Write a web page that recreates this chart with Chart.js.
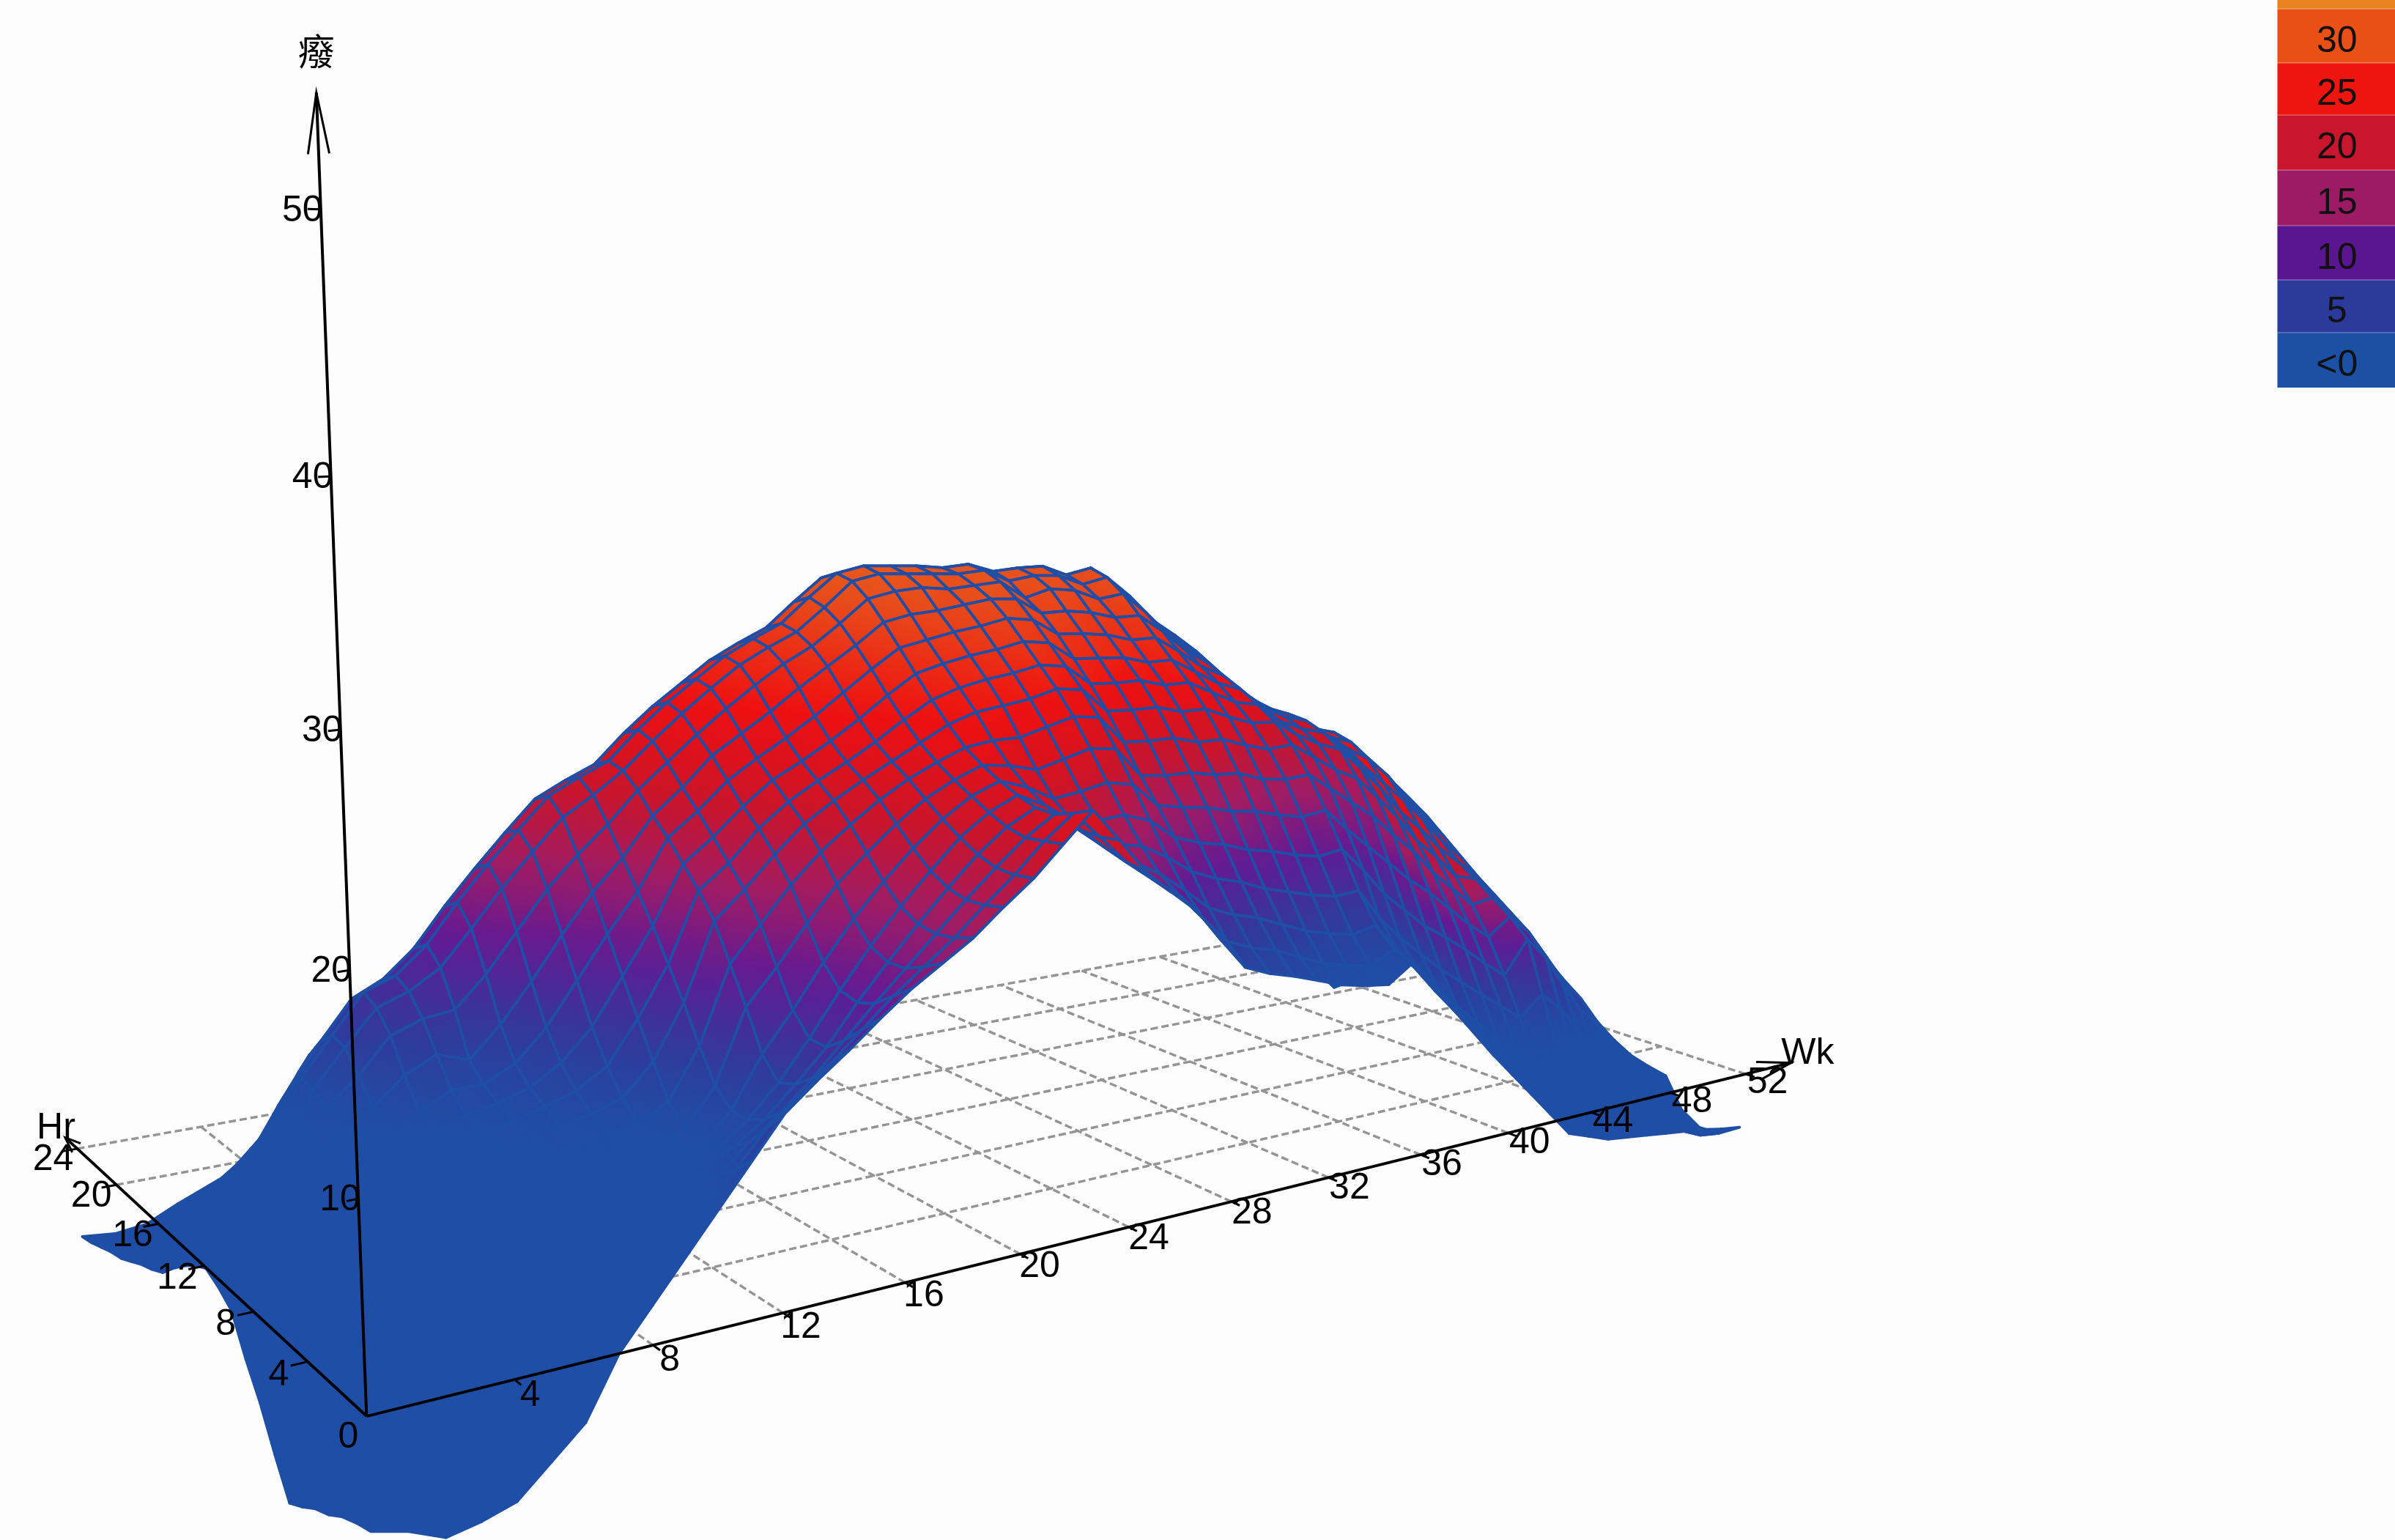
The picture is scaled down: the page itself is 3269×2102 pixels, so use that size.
<!DOCTYPE html>
<html>
<head>
<meta charset="utf-8">
<title>Surface</title>
<script src="https://cdn.jsdelivr.net/npm/chart.js@4"></script>
<style>
  html, body { margin: 0; padding: 0; background: #fdfdfd; }
  canvas { display: block; }
</style>
</head>
<body>
<canvas id="surfaceChart" width="3269" height="2102"></canvas>
<script>
// --- Data ---
const wkTicks = [4, 8, 12, 16, 20, 24, 28, 32, 36, 40, 44, 48, 52];
const hrTicks = [4, 8, 12, 16, 20, 24];
const tempTicks = [10, 20, 30, 40, 50];
const legendLabels = ['', '30', '25', '20', '15', '10', '5', '<0'];
const legendColors = ['#e8841e', '#ea5015', '#ee1410', '#c9152d', '#9c1b64', '#5a1590', '#2c3a9c', '#1c50a4'];

// one row per week (0-52), one value per hour (0-24)
const tempByWeek = [
  [-5.5,-5.8,-6.2,-6.8,-7.2,-7.8,-8.3,-6.5,-4.5,-2.9,-1,-0.4,0,-0.4,-1,-1.7,-2.5,-2.9,-3.2,-3.6,-4,-4.2,-4.5,-4.8,-5],
  [-6,-6.1,-6.4,-6.8,-7.2,-7.4,-6.9,-5.2,-3.4,-1.8,-0.6,0,0.2,0.2,0,-0.4,-1,-1.7,-2.3,-2.9,-3.6,-4,-4.4,-4.8,-5.2],
  [-6.8,-6.8,-7,-7.1,-7.1,-6.8,-5.8,-4.2,-2.4,-0.8,0.6,1.2,1.6,1.8,1.7,1.5,0.9,0,-0.9,-1.8,-2.8,-3.4,-4,-4.5,-5],
  [-6.5,-6.5,-6.6,-6.7,-6.5,-6,-4.8,-3,-1.2,0.4,1.9,2.9,3.3,3.6,3.7,3.6,2.9,2,0.8,-0.4,-1.5,-2.3,-3,-3.6,-4.2],
  [-6,-6.1,-6.2,-6.1,-5.7,-4.8,-3.4,-1.4,0.6,2.4,3.8,4.6,5.6,6.4,6.9,7,6,4.6,3,1.6,0.2,-0.8,-1.8,-2.7,-3.5],
  [-4.5,-4.8,-5,-4.9,-4.4,-3.4,-1.8,0.2,2.2,3.8,4.8,5.6,6.6,7.8,8.8,9,8.2,7,5.6,3.8,2.2,1,-0.2,-1.5,-2.8],
  [-3,-3.5,-3.8,-3.6,-3,-1.8,-0.2,1.8,3.6,5,5.8,6.6,8,9.6,10.6,11,10.2,8.8,7,5.2,3.6,2.2,0.9,-0.5,-2],
  [0,-0.8,-1.4,-1.4,-0.8,0.4,1.9,3.4,4.8,5.9,6.6,7.4,8.8,10.2,11.2,11.6,11,10,8.4,6.6,5,3.4,2,0.6,-0.8],
  [2,1.2,0.6,0.6,1.2,2.2,3.4,4.7,5.7,6.4,6.9,7.4,8.2,10.4,12.2,13,12.4,11.2,9.8,8.2,6.4,4.8,3.4,1.9,0.5],
  [4,3.2,2.6,2.6,3,3.8,4.7,5.6,6.3,6.9,7.4,8.2,9.8,12,14,15,14.4,13,11.4,9.8,8,6.4,5,3.5,2],
  [6,5.2,4.6,4.4,4.6,5,5.5,6.1,6.7,7.4,8.4,9.8,11.8,14,15.9,16.8,16.2,14.8,13.2,11.4,9.6,8,6.6,5,3.5],
  [8,7,6.2,5.8,5.6,5.6,5.9,6.4,7.2,8.4,10,12,14,16,17.6,18.4,17.9,16.6,14.9,13,11.2,9.6,8.1,6.6,5],
  [10,8.8,7.6,6.8,6.2,5.9,6.2,7.2,8.8,10.6,12.4,14.2,16,17.6,19.2,20,19.5,18.2,16.4,14.6,12.8,11.2,9.7,8.1,6.5],
  [11.3,10,8.8,7.9,7.4,7.4,8.2,9.8,11.6,13.2,14.8,16.2,17.6,19,20.2,20.8,20.3,19,17.4,15.6,14,12.4,11,9.5,8],
  [12.5,11.4,10.2,9.4,9,10,12,13.8,15.6,16.8,17.8,18.8,19.6,20.6,21.3,21.5,21,19.8,18.2,16.6,15,13.6,12.2,10.8,9.5],
  [13.8,12.8,11.8,11,11,12,13.8,15.6,17,18,19,20,20.9,21.9,22.7,23,22.5,21.2,19.6,18,16.4,15,13.7,12.3,11],
  [15,14.2,13.4,13,13.2,14.2,15.8,17.4,18.6,19.6,20.4,21.4,22.4,23.2,24,24.3,23.8,22.6,21,19.4,17.8,16.4,15,13.5,12],
  [16,15.4,14.9,14.8,15.2,16.2,17.6,18.9,20,20.8,21.6,22.4,23.4,24.4,25.2,25.4,24.9,23.7,22.1,20.5,18.9,17.5,16.1,14.7,13.2],
  [17,16.6,16.4,16.5,17,17.9,19,20.1,21,21.7,22.4,23.3,24.4,25.5,26.3,26.5,26,24.8,23.2,21.6,20,18.6,17.3,15.9,14.5],
  [18.3,18,17.9,18.1,18.6,19.4,20.3,21.2,21.9,22.5,23.3,24.3,25.5,26.5,27.1,27.3,26.8,25.6,24,22.4,20.9,19.6,18.4,17.1,15.8],
  [19.5,19.3,19.3,19.6,20.1,20.7,21.4,22.1,22.7,23.4,24.3,25.4,26.5,27.3,27.8,28,27.5,26.3,24.8,23.3,21.9,20.7,19.5,18.2,17],
  [21,20.8,20.6,20.8,21.2,21.7,22.2,22.8,23.5,24.4,25.4,26.5,27.5,28.4,29,29.3,28.8,27.6,26.1,24.6,23.2,22,20.8,19.4,18],
  [22.5,22,21.6,21.6,21.9,22.3,22.8,23.4,24.3,25.3,26.4,27.5,28.6,29.6,30.3,30.5,30,28.8,27.2,25.7,24.3,23,21.8,20.4,19],
  [20.8,20.6,20.6,20.8,21.2,21.8,22.6,23.6,24.8,25.8,26.8,27.8,28.9,29.9,30.6,30.8,30.2,29,27.5,26,24.6,23.4,22.2,20.8,19.5],
  [19,19.1,19.4,19.7,20.2,21,22.2,23.6,25,26.1,27.1,28.1,29,30,30.5,30.7,30.3,29.2,27.7,26.2,24.8,23.6,22.4,21.2,20],
  [17.7,18,18.5,19.1,20,21.2,22.6,24,25.2,26.3,27.3,28.3,29.2,29.8,30.4,30.6,30.1,29.2,27.9,26.4,25,23.8,22.7,21.6,20.5],
  [16.5,17,17.7,18.8,20.1,21.5,23,24.4,25.6,26.6,27.6,28.6,29.4,29.9,30.3,30.4,30.1,29.4,28.3,26.8,25.4,24.2,23.1,22,21],
  [14.7,15.5,16.6,18,19.6,21.2,22.8,24.2,25.4,26.4,27.4,28.4,29.3,30,30.4,30.5,30.1,29.2,27.8,26.4,25.1,24,23,22,21],
  [13,14,15.4,17,18.5,19.9,21.2,22.7,24.1,25.3,26.4,27.5,28.4,29,29.7,30,29.5,28.6,27.4,26,24.8,23.8,22.8,21.9,21],
  [12.4,13.4,14.8,16.4,18,19.6,21,22.6,24,25.2,26.3,27.4,28.4,29.4,29.9,30.1,29.7,28.8,27.4,26,24.7,23.7,22.7,21.8,21],
  [12,13,14.4,16,17.7,19.4,21,22.6,24,25.2,26.2,27.2,28.2,29.2,29.8,30.1,29.8,28.7,27.3,25.9,24.6,23.5,22.5,21.6,20.8],
  [11.5,12.4,13.8,15.4,17.2,19,20.7,22.2,23.6,24.8,25.8,26.8,27.8,28.6,29.2,29.5,29,28,26.8,25.4,24.2,23.2,22.2,21.3,20.5],
  [11,11.8,13.2,15,16.9,18.8,20.6,22.2,23.6,24.8,25.8,26.8,27.8,28.8,29.5,29.8,29.3,28.3,26.9,25.5,24.2,23.1,22.1,21.2,20.3],
  [10.7,11.4,12.8,14.6,16.5,18.4,20.1,21.7,23,24.1,25,25.9,26.8,27.6,28.3,28.5,28,26.9,25.6,24.3,23.1,22.1,21.1,20.3,19.5],
  [10.5,11.2,12.5,14.3,16.2,18.1,19.9,21.3,22.5,23.4,24.2,24.9,25.6,26.2,26.8,27,26.5,25.5,24.3,23.2,22.1,21.1,20.2,19.4,18.6],
  [11.5,11.8,12.8,14.4,16.4,18.3,20,21.4,22.4,23.1,23.7,24.2,24.7,25.2,25.8,26,25.6,24.7,23.5,22.4,21.3,20.3,19.4,18.6,17.8],
  [10,10.5,11.2,12.6,15,17,19,20.5,21.5,22,22.5,23,23.5,24.1,24.7,25,24.6,23.7,22.6,21.5,20.4,19.5,18.6,17.7,17],
  [8.5,8.9,9.7,11.2,13.4,15.8,18,19.6,20.8,21.4,21.8,22,22.3,22.7,23.2,23.5,23.1,22.2,21.2,20.2,19.1,18.2,17.3,16.4,15.6],
  [6.7,7.4,8.4,10,12.2,14.6,17,18.9,20.3,21,21.4,21.5,21.5,21.6,21.8,22,21.6,20.8,19.9,19,18,17.1,16.2,15.3,14.5],
  [5,5.8,7,8.8,11,13.4,15.7,17.6,19,19.8,20.2,20.2,20,20.2,20.6,20.8,20.4,19.6,18.7,17.8,16.9,16,15.1,14.2,13.4],
  [3.5,4.4,5.8,7.8,10.1,12.4,14.5,16.2,17.6,18.6,19.4,19.8,20,19.9,19.7,19.5,19.1,18.4,17.5,16.6,15.7,14.8,13.9,13,12.2],
  [2,3,4.6,6.8,9.1,11.2,13,14.6,16,17.4,18.6,19.3,19.6,19.4,19.1,18.8,18.3,17.5,16.6,15.7,14.8,13.9,13,12.1,11.2],
  [0.5,1.8,3.6,5.8,8,10,11.8,13.4,14.8,16.2,17.4,18,18.2,18,17.6,17.2,16.8,16.2,15.5,14.6,13.7,12.8,11.9,11,10.1],
  [-1,0.6,2.6,4.8,7,9,10.6,12,13.4,14.8,15.8,16.4,16.8,16.6,16.2,15.8,15.4,14.8,14.1,13.2,12.3,11.4,10.5,9.6,8.7],
  [-1.5,0.6,3,6,9,10,10.8,11.6,12.3,13.3,14.3,15.3,16,15.9,15.4,15,14.3,13.5,12.6,11.7,10.8,9.9,9,8.1,7.2],
  [-2,-0.6,1.8,4.8,7.6,8.8,9.6,10.4,11.2,12.1,13,13.9,14.4,14.3,14,13.6,12.9,12.1,11.2,10.3,9.4,8.5,7.6,6.7,5.8],
  [-2.2,-1.2,0.8,3.2,5.6,7,7.9,8.7,9.5,10.4,11.3,12.2,12.9,12.8,12.4,12,11.3,10.5,9.6,8.7,7.8,6.9,6,5.1,4.2],
  [-2.4,-1.8,-0.4,1.6,3.8,5.2,6.2,7,7.7,8.6,9.5,10.4,11.2,11.1,10.7,10.3,9.6,8.8,7.9,7,6.1,5.2,4.3,3.4,2.5],
  [-2.6,-2.4,-1.4,0.4,2.5,3.8,4.6,5.3,6,7,8,9,10,9.9,9.5,9.1,8.4,7.6,6.7,5.8,4.9,4,3.1,2.2,1.3],
  [-2.8,-3,-2.4,-1,0.9,2,2.8,3.5,4.2,5.2,6.2,7.4,8.4,8.3,7.9,7.5,6.8,6,5.1,4.2,3.3,2.4,1.5,0.6,-0.3],
  [-3,-3.6,-3.4,-2.2,-0.5,0.5,1.2,1.9,2.5,3.6,4.8,5.9,7,6.9,6.5,6.1,5.4,4.6,3.7,2.8,1.9,1,0.1,-0.8,-1.7],
  [-3.3,-4.2,-4.2,-3.2,-1.4,-0.8,-0.2,0.4,1,2,3.3,4.5,5.5,5.4,5,4.6,3.9,3.1,2.2,1.3,0.4,-0.5,-1.4,-2.3,-3.2],
  [-3.5,-4.4,-4.5,-3.8,-2,-1.8,-1.6,-1.3,-1,0,1.5,2.9,4,3.9,3.5,3.1,2.4,1.6,0.7,-0.2,-1.1,-2,-2.9,-3.8,-4.7]
];

// the picture's colours do not quite follow the heights on the two flanks,
// so each week gets a small colour correction (degrees), see cellHeat()
const shadeOffset = [0,0,0,0,0,0,0,0,0,0,0,0,0,0,0,0,0,0,0,0,0,0,0,0,
  -1,-2,-3,-4,-5,-5,-5,-5,-5,-5,-5,-5,-5,-4,-2,1,4,6,7,8,8,8,8,8,8,8,8,8,8];

// colour ramp of the surface: temperature -> rgb
const heatTemps = [6, 9.5, 13.5, 17, 20.5, 24.5, 29, 36];
const heatColors = [[31,78,166], [47,58,156], [98,26,148], [160,28,100], [203,20,40], [238,16,16], [232,72,26], [232,132,30]];

const FONT = '50px "Liberation Sans", Arial, sans-serif';
const CJK_FONT = '50px "Noto Sans CJK TC", sans-serif';
const MESH_BLUE = 'rgb(31,78,166)';

// --- 1. Perspective: week, hour, temperature -> scene units of the x/y scales ---
// axes and floor grid
function project(wk, hr, temp) {
    const d = 1 + 0.008494 * wk + 0.0117 * hr - 0.00241 * temp;
    return {
        x: (240 + 27.07 * wk - 7.3 * hr - 1.106 * temp) / d,
        y: (927 + 1.664 * wk + 1.5 * hr - 16.13 * temp) / d,
        depth: d
    };
}

// the surface sits a little differently over the floor
function projectSurface(wk, hr, temp) {
    const d = 1 + 0.008494 * wk + 0.0098 * hr - 0.00241 * temp;
    return {
        x: (240 + 27.07 * wk - 7.43 * hr - 1.106 * temp) / d,
        y: (927 + 1.664 * wk + 0.08 * hr - 16.13 * temp) / d,
        depth: d
    };
}

function cellHeat(wk, hr, temp) {
    const off = shadeOffset[wk];
    if (off > 0) return temp + off * Math.min(1, hr / 8);
    return temp + off * Math.max(0, 1 - hr / 10);
}

function heatColor(t) {
    if (t <= heatTemps[0]) return heatColors[0];
    for (let i = 1; i < heatTemps.length; i++) {
        if (t <= heatTemps[i]) {
            const f = (t - heatTemps[i - 1]) / (heatTemps[i] - heatTemps[i - 1]);
            return heatColors[i].map((c, k) => Math.round(heatColors[i - 1][k] + (c - heatColors[i - 1][k]) * f));
        }
    }
    return heatColors[heatColors.length - 1];
}
const rgb = (c) => `rgb(${c[0]},${c[1]},${c[2]})`;

// --- 2. Datasets ---
const hourCount = tempByWeek[0].length;
const surfacePoints = [];
tempByWeek.forEach((row, wk) => {
    row.forEach((temp, hr) => {
        surfacePoints.push(Object.assign(projectSurface(wk, hr, temp), { heat: cellHeat(wk, hr, temp) }));
    });
});

function lineSet(points, color, width, order, dash) {
    return {
        data: points,
        showLine: true,
        borderColor: color,
        borderWidth: width,
        borderDash: dash || [],
        pointRadius: 0,
        tension: 0,
        order: order,
        clip: false
    };
}

function arrowWings(tip, from, len, spread) {
    const dx = from.x - tip.x, dy = from.y - tip.y;
    const n = Math.hypot(dx, dy);
    const ux = dx / n, uy = dy / n;
    return [
        { x: tip.x + ux * len - uy * spread, y: tip.y + uy * len + ux * spread },
        { x: tip.x, y: tip.y },
        { x: tip.x + ux * len + uy * spread, y: tip.y + uy * len - ux * spread }
    ];
}

const datasets = [];
wkTicks.forEach(w => datasets.push(lineSet([project(w, 0, 0), project(w, 24, 0)], '#949494', 3.4, 3, [10, 5])));
hrTicks.forEach(h => datasets.push(lineSet([project(0, h, 0), project(52, h, 0)], '#949494', 3.4, 3, [10, 5])));
datasets.push({ label: 'surface', data: surfacePoints, pointRadius: 0, order: 2, clip: false });

const origin = project(0, 0, 0);
const wkTip = project(54.5, 0, 0), hrTip = project(0, 25.3, 0), tempTip = project(0, 0, 54.2);
datasets.push(lineSet([origin, wkTip], '#000', 4, 1));
datasets.push(lineSet([origin, hrTip], '#000', 4, 1));
datasets.push(lineSet([origin, tempTip], '#000', 4, 1));
datasets.push(lineSet(arrowWings(wkTip, origin, 22, 6), '#000', 3, 1));
datasets.push(lineSet(arrowWings(hrTip, origin, 10, 4), '#000', 3, 1));
datasets.push(lineSet(arrowWings(tempTip, origin, 40, 7), '#000', 3, 1));
wkTicks.forEach(w => datasets.push(lineSet([project(w, 0, 0), project(w, -0.4, 0)], '#000', 3, 1)));
hrTicks.forEach(h => datasets.push(lineSet([project(0, h, 0), project(-0.45, h, 0)], '#000', 3, 1)));
tempTicks.forEach(t => datasets.push(lineSet([project(0, 0, t), project(-0.3, 0, t)], '#000', 3, 1)));

// --- 3. Plugins: mesh cells, then all the text and the colour key ---
const surfacePlugin = {
    id: 'surfaceMesh',
    beforeDatasetDraw(chart, args) {
        if (chart.data.datasets[args.index].label !== 'surface') return;
        const ctx = chart.ctx;
        const pts = args.meta.data;
        const cells = [];
        for (let w = 0; w < tempByWeek.length - 1; w++) {
            for (let h = 0; h < hourCount - 1; h++) {
                const ids = [w * hourCount + h, (w + 1) * hourCount + h, (w + 1) * hourCount + h + 1, w * hourCount + h + 1];
                const depth = ids.reduce((s, i) => s + surfacePoints[i].depth, 0) / 4;
                cells.push({ ids: ids, depth: depth });
            }
        }
        // far cells first, near cells paint over them
        cells.sort((a, b) => b.depth - a.depth);

        ctx.save();
        ctx.lineJoin = 'round';
        cells.forEach(cell => {
            let lo = cell.ids[0], hi = cell.ids[0];
            cell.ids.forEach(i => {
                if (surfacePoints[i].heat < surfacePoints[lo].heat) lo = i;
                if (surfacePoints[i].heat > surfacePoints[hi].heat) hi = i;
            });
            const tLo = surfacePoints[lo].heat, tHi = surfacePoints[hi].heat;
            const grad = ctx.createLinearGradient(pts[lo].x, pts[lo].y, pts[hi].x + 0.01, pts[hi].y + 0.01);
            grad.addColorStop(0, rgb(heatColor(tLo)));
            grad.addColorStop(0.5, rgb(heatColor((tLo + tHi) / 2)));
            grad.addColorStop(1, rgb(heatColor(tHi)));

            ctx.beginPath();
            cell.ids.forEach((id, k) => {
                if (k === 0) ctx.moveTo(pts[id].x, pts[id].y);
                else ctx.lineTo(pts[id].x, pts[id].y);
            });
            ctx.closePath();
            ctx.fillStyle = grad;
            ctx.fill();
            ctx.strokeStyle = MESH_BLUE;
            ctx.lineWidth = 3.8;
            ctx.stroke();
        });
        ctx.restore();
    },
    afterDatasetsDraw(chart) {
        const ctx = chart.ctx;
        const sx = (v) => chart.scales.x.getPixelForValue(v);
        const sy = (v) => chart.scales.y.getPixelForValue(v);
        const put = (text, p, dx, dy) => ctx.fillText(text, sx(p.x + (dx || 0)), sy(p.y + (dy || 0)));

        ctx.save();
        ctx.fillStyle = '#000';
        ctx.font = FONT;
        ctx.textAlign = 'center';
        ctx.textBaseline = 'middle';

        wkTicks.forEach(w => put(String(w), project(w, -1.2, 0), -3, 0));
        hrTicks.forEach(h => put(String(h), project(-0.9, h, 0), 3, 4));
        tempTicks.forEach(t => put(String(t), project(0, 0, t), -12, 1));
        put('0', origin, -12, 14);
        put('Wk', wkTip, 11, -6);
        put('Hr', hrTip, -6, -6);
        ctx.font = CJK_FONT;
        put('癈', tempTip, 0, -27);

        // colour key, top right
        const rowEdges = [0, 5.8, 41.2, 75.3, 111.3, 147.7, 183.2, 217.7, 253.7];
        const left = sx(1491), right = sx(1568);
        ctx.font = FONT;
        legendLabels.forEach((label, i) => {
            const top = sy(rowEdges[i]), bottom = sy(rowEdges[i + 1]);
            ctx.fillStyle = legendColors[i];
            ctx.fillRect(left, top, right - left, bottom - top);
            if (i > 0) {
                ctx.fillStyle = 'rgba(255,255,255,0.22)';
                ctx.fillRect(left, top - 1, right - left, 2);
            }
            if (label) {
                ctx.fillStyle = '#111';
                ctx.fillText(label, sx(1530), (top + bottom) / 2 + 8);
            }
        });
        ctx.restore();
    }
};

// --- 4. Chart ---
new Chart(document.getElementById('surfaceChart'), {
    type: 'scatter',
    data: { datasets: datasets },
    plugins: [surfacePlugin],
    options: {
        responsive: false,
        animation: false,
        events: [],
        layout: { padding: 0 },
        plugins: { legend: { display: false }, tooltip: { enabled: false } },
        scales: {
            x: { type: 'linear', display: false, min: 0, max: 1568 },
            y: { type: 'linear', display: false, min: 0, max: 1008, reverse: true }
        }
    }
});
</script>
</body>
</html>
